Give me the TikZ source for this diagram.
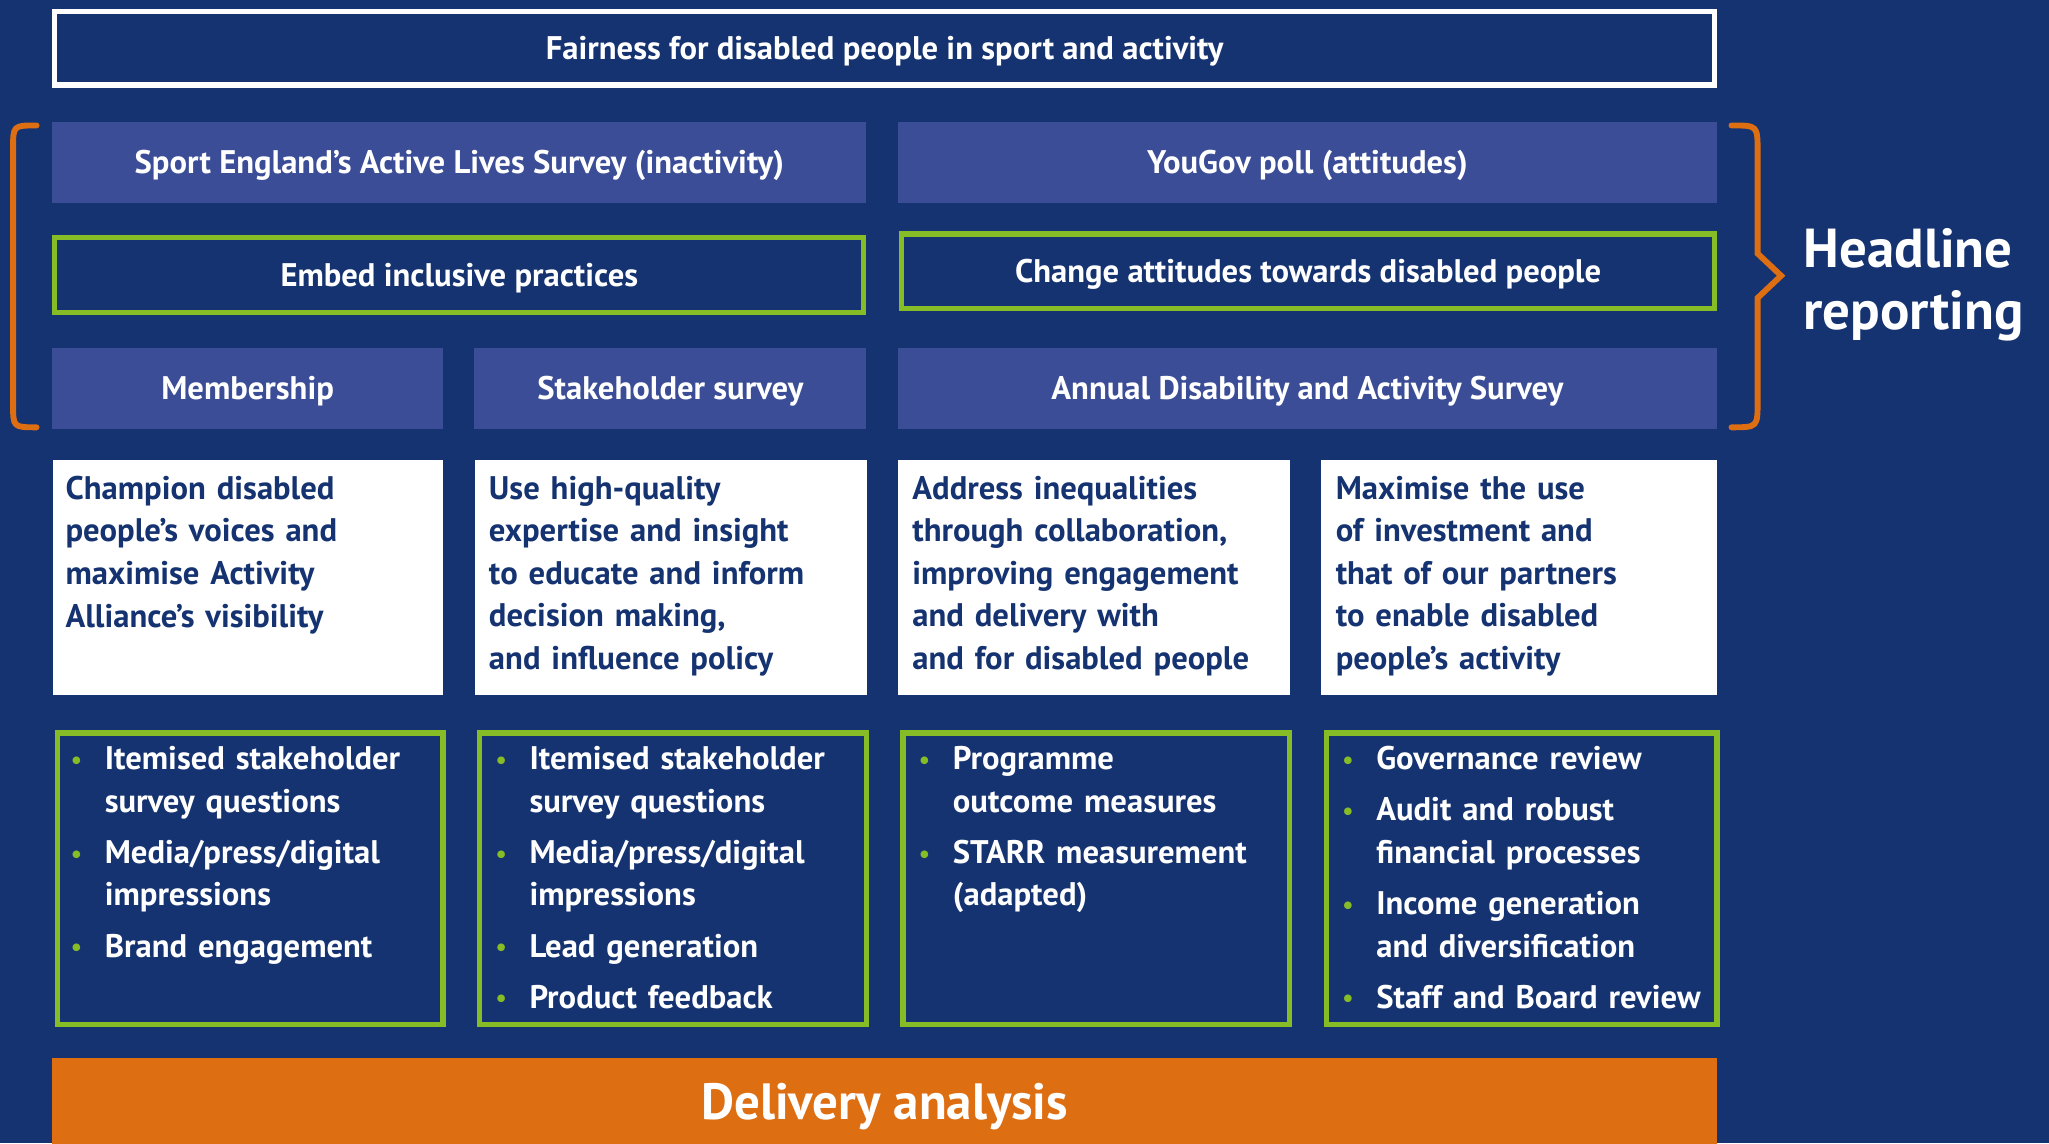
\documentclass[tikz,border=0pt]{standalone}
\usepackage{fontspec}
\setmainfont{PT Sans}
\usetikzlibrary{positioning}

\definecolor{navy}{RGB}{21,51,113}
\definecolor{paleblue}{RGB}{58,77,150}
\definecolor{lime}{RGB}{134,188,37}
\definecolor{flame}{RGB}{222,110,18}

% one bulleted measure, hanging under its own first line
\newcommand\bul[1]{\hangindent=26pt\hangafter=1\noindent
  \makebox[26pt][l]{\textcolor{lime}{\fontsize{19}{19}\selectfont\raisebox{1pt}{\textbullet}}}#1\par\vspace{6.5pt}}

\begin{document}
\begin{tikzpicture}[x=1pt,y=-1pt,
  every node/.style={inner sep=0pt, text=white, font=\bfseries\fontsize{25}{32.6}\selectfont},
  oneline/.style={text height=17.5pt, text depth=0pt},
  band/.style={oneline, fill=paleblue, minimum height=62pt},
  goal/.style={oneline, draw=lime, line width=4pt, minimum height=57pt},
  aim/.style={fill=white, minimum height=180pt, anchor=north west},
  aimtext/.style={text=navy, text width=295pt, align=left, anchor=north west},
  measures/.style={draw=lime, line width=4pt, minimum height=223pt, anchor=north west},
  bullets/.style={text width=290pt, anchor=north west},
  bracket/.style={draw=flame, line width=4.5pt, line cap=round}]

  \useasboundingbox[fill=navy] (0,0) rectangle (1568,875);

  \node[oneline, draw=white, line width=4pt, minimum width=1270pt, minimum height=56pt] (vision) at (677,37)
    {Fairness for disabled people in sport and activity};

  % headline sources and outcomes
  \node[band, minimum width=623pt] (active) at (351.5,124) {Sport England's Active Lives Survey (inactivity)};
  \node[band, minimum width=627pt] (yougov) at (1000.5,124) {YouGov poll (attitudes)};
  \node[goal, minimum width=619pt] (embed) at (351.5,210.5) {Embed inclusive practices};
  \node[goal, minimum width=622pt] (attitudes) at (1001,207.5) {Change attitudes towards disabled people};
  \node[band, minimum width=299pt] (member) at (189.5,297) {Membership};
  \node[band, minimum width=300pt] (stake) at (513,297) {Stakeholder survey};
  \node[band, minimum width=627pt] (annual) at (1000.5,297) {Annual Disability and Activity Survey};

  \draw[bracket] (28,96) .. controls (10,96) .. (10,114) -- (10,309) .. controls (10,327) .. (28,327);
  \draw[bracket] (1325,96) .. controls (1345,96) .. (1345,116) -- (1345,194) -- (1363,211)
    -- (1345,228) -- (1345,307) .. controls (1345,327) .. (1325,327);
  \node[anchor=west, align=left, font=\bfseries\fontsize{42}{48}\selectfont] (headline) at (1380,218)
    {Headline\\reporting};

  % aims and their measures, one column each
  \foreach \x/\w [count=\i] in {40/299,363/300,687/300,1011/303} {
    \node[aim, minimum width=\w pt] (aim\i) at (\x,352) {};
    \node[measures, minimum width=\w pt-4pt] (ms\i) at (\x+2,559) {};
  }

  \node[aimtext, below right=12pt and 10pt of aim1.north west] (aim1t)
    {Champion disabled\\people's voices and\\maximise Activity\\Alliance's visibility};
  \node[aimtext, below right=12pt and 11pt of aim2.north west] (aim2t)
    {Use high-quality\\expertise and insight\\to educate and inform\\decision making,\\and influence policy};
  \node[aimtext, below right=12pt and 11pt of aim3.north west] (aim3t)
    {Address inequalities\\through collaboration,\\improving engagement\\and delivery with\\and for disabled people};
  \node[aimtext, below right=12pt and 11pt of aim4.north west] (aim4t)
    {Maximise the use\\of investment and\\that of our partners\\to enable disabled\\people's activity};

  \node[bullets, below right=12pt and 12pt of ms1.north west] (ms1t)
    {\bul{Itemised stakeholder\newline survey questions}\bul{Media/press/digital\newline impressions}\bul{Brand engagement}};
  \node[bullets, below right=12pt and 14pt of ms2.north west] (ms2t)
    {\bul{Itemised stakeholder\newline survey questions}\bul{Media/press/digital\newline impressions}\bul{Lead generation}\bul{Product feedback}};
  \node[bullets, below right=12pt and 14pt of ms3.north west] (ms3t)
    {\bul{Programme\newline outcome measures}\bul{STARR measurement\newline (adapted)}};
  \node[bullets, below right=12pt and 14pt of ms4.north west] (ms4t)
    {\bul{Governance review}\bul{Audit and robust\newline financial processes}\bul{Income generation\newline and diversification}\bul{Staff and Board review}};

  \node[fill=flame, minimum width=1274pt, minimum height=66pt, text height=27pt, text depth=0pt,
    font=\bfseries\fontsize{39}{44}\selectfont] (delivery) at (677,843) {Delivery analysis};
\end{tikzpicture}
\end{document}
